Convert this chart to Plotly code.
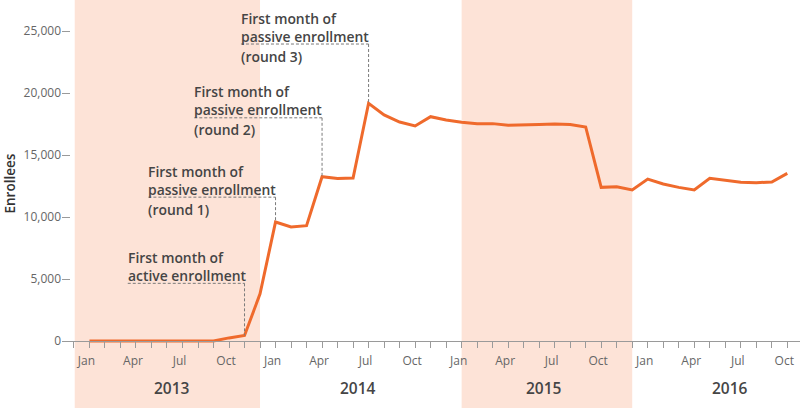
import plotly.graph_objects as go

# ---- data ----
months = [f"{y}-{m:02d}" for y in (2013, 2014, 2015, 2016) for m in range(1, 13)][:46]
enrollees = [
    0, 0, 0, 0, 0, 0, 0, 0, 0, 250, 450, 3800,
    9600, 9200, 9300, 13250, 13100, 13150, 19170, 18230, 17660, 17340, 18090, 17820,
    17640, 17530, 17530, 17400, 17400, 17450, 17500, 17450, 17260, 12390, 12440, 12180,
    13060, 12660, 12390, 12180, 13120, 12930, 12800, 12770, 12820, 13520,
]
years = ["2013", "2014", "2015", "2016"]
shaded_years = ["2013", "2015"]
month_names = ["Jan", "Apr", "Jul", "Oct"]
y_ticks = [0, 5000, 10000, 15000, 20000, 25000]

events = [
    ("2013-11", ["First month of", "active enrollment"], 4650, 7.53),
    ("2014-01", ["First month of", "passive enrollment", "(round 1)"], 11600, 8.2),
    ("2014-04", ["First month of", "passive enrollment", "(round 2)"], 18000, 8.24),
    ("2014-07", ["First month of", "passive enrollment", "(round 3)"], 23950, 8.23),
]

# ---- styling ----
ORANGE = "#EF6A2C"
SHADE = "#FDE3D7"
TEXT = "#454545"
TICK = "#666666"
FONT = "Open Sans"

x = list(range(len(months)))
idx = {m: i for i, m in enumerate(months)}

YMIN, YMAX = -5403, 27500
XMIN, XMAX = -1.77, 45.82

fig = go.Figure()
fig.add_trace(go.Scatter(x=x, y=enrollees, mode="lines",
                         line=dict(color=ORANGE, width=3), hoverinfo="skip"))

shapes = []
for yr in shaded_years:
    start = years.index(yr) * 12
    x0 = start - 0.95 if yr == "2013" else start
    shapes.append(dict(type="rect", xref="x", yref="y", x0=x0, x1=start + 11,
                       y0=YMIN, y1=YMAX, fillcolor=SHADE, line=dict(width=0), layer="below"))

annotations = []
for m, lines, level, width in events:
    ex = idx[m]
    ey = enrollees[ex]
    x0 = ex - width
    dash = dict(color="#7a7a7a", width=1, dash="3px,2px")
    shapes.append(dict(type="line", xref="x", yref="y", x0=x0, x1=ex, y0=level, y1=level, line=dash))
    shapes.append(dict(type="line", xref="x", yref="y", x0=ex, x1=ex, y0=level, y1=ey, line=dash))
    shifts = [26, 8, -12]
    for line_text, sh in zip(lines, shifts):
        annotations.append(dict(x=x0, y=level, xref="x", yref="y", text=line_text,
                                showarrow=False, xanchor="left", yanchor="middle",
                                yshift=sh, xshift=-2,
                                font=dict(family=FONT, size=13.9, color=TEXT, weight=600)))

for i, yr in enumerate(years):
    annotations.append(dict(x=i * 12 + 5.3, y=0, xref="x", yref="y", text=yr,
                            showarrow=False, xanchor="center", yanchor="middle", yshift=-47,
                            font=dict(family=FONT, size=15.5, color=TEXT, weight=600)))

annotations.append(dict(x=0, y=12700, xref="paper", yref="y", text="Enrollees",
                        showarrow=False, textangle=-90, xanchor="center", yanchor="middle",
                        xshift=-52, font=dict(family=FONT, size=13.5, color="#333333", weight=600)))

tickvals = list(range(-1, 47))
ticktext = []
for t in tickvals:
    if t >= 0 and t % 3 == 0:
        ticktext.append(month_names[(t % 12) // 3])
    else:
        ticktext.append("")

fig.update_layout(
    width=800, height=408,
    margin=dict(l=62, r=0, t=0, b=0),
    plot_bgcolor="white", paper_bgcolor="white",
    showlegend=False,
    shapes=shapes, annotations=annotations,
    xaxis=dict(range=[XMIN, XMAX], tickvals=tickvals, ticktext=ticktext,
               anchor="free", position=(0 - YMIN) / (YMAX - YMIN), automargin=False,
               showline=True, linecolor="#9a9a9a", linewidth=1,
               ticks="outside", ticklen=6, tickcolor="#9a9a9a", tickwidth=1,
               showgrid=False, zeroline=False,
               tickfont=dict(family=FONT, size=12, color=TICK), ticklabelstandoff=3,
               ticklabelshift=-3),
    yaxis=dict(range=[YMIN, YMAX], tickvals=y_ticks, automargin=False,
               ticktext=[f"{v:,}" for v in y_ticks],
               showline=False, showgrid=False, zeroline=False,
               ticks="inside", ticklen=8, tickcolor="#9a9a9a", tickwidth=1,
               tickfont=dict(family=FONT, size=12, color=TICK)),
)

fig.write_html(
    "out.html",
    config={"displayModeBar": False, "staticPlot": True},
    post_script="document.body.style.margin='0';document.body.style.overflow='hidden';",
)
